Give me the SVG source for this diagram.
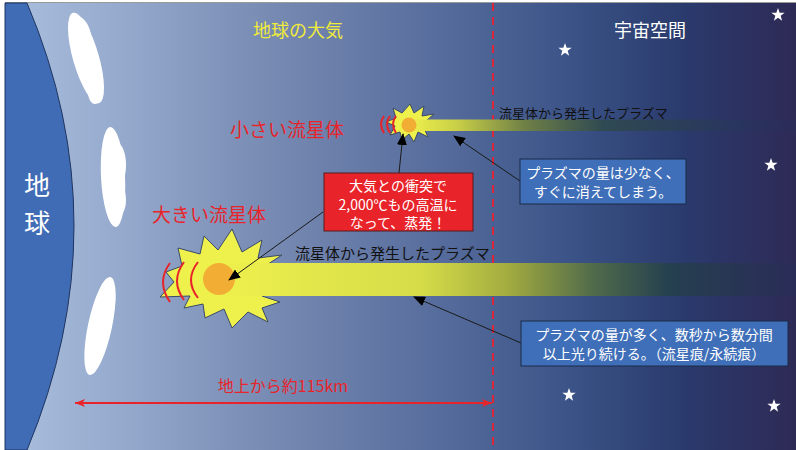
<svg xmlns="http://www.w3.org/2000/svg" width="796" height="450" viewBox="0 0 796 450">
  <defs>
    <linearGradient id="sky" x1="5" y1="0" x2="796" y2="0" gradientUnits="userSpaceOnUse">
      <stop offset="0" stop-color="#abbfde"/>
      <stop offset="0.15" stop-color="#94a9cc"/>
      <stop offset="0.35" stop-color="#7588b1"/>
      <stop offset="0.55" stop-color="#566c9c"/>
      <stop offset="0.62" stop-color="#4a6293"/>
      <stop offset="0.72" stop-color="#3a5286"/>
      <stop offset="0.86" stop-color="#2a3a6c"/>
      <stop offset="1" stop-color="#2e2a56"/>
    </linearGradient>
    <linearGradient id="trailBig" x1="220" y1="0" x2="796" y2="0" gradientUnits="userSpaceOnUse">
      <stop offset="0" stop-color="#eef04c"/>
      <stop offset="0.35" stop-color="#d5dc48"/>
      <stop offset="0.5" stop-color="#a3ac40"/>
      <stop offset="0.65" stop-color="#4f6a4a"/>
      <stop offset="0.78" stop-color="#25404f"/>
      <stop offset="1" stop-color="#2a2c58"/>
    </linearGradient>
    <linearGradient id="trailSmall" x1="410" y1="0" x2="796" y2="0" gradientUnits="userSpaceOnUse">
      <stop offset="0" stop-color="#eef04c"/>
      <stop offset="0.12" stop-color="#c9d046"/>
      <stop offset="0.3" stop-color="#6e7f46"/>
      <stop offset="0.5" stop-color="#2f4a52"/>
      <stop offset="0.85" stop-color="#28355f"/>
      <stop offset="1" stop-color="#2a2c58" stop-opacity="0.6"/>
    </linearGradient>
    <marker id="tip" viewBox="0 0 12 10" refX="11" refY="5" markerWidth="12" markerHeight="10" markerUnits="userSpaceOnUse" orient="auto">
      <path d="M0,0 L12,5 L0,10 Z" fill="#000"/>
    </marker>
    <marker id="redTip" viewBox="0 0 12 10" refX="11" refY="5" markerWidth="12" markerHeight="10" markerUnits="userSpaceOnUse" orient="auto-start-reverse">
      <path d="M1,1 L11,5 L1,9 L3.5,5 Z" fill="#e8242a"/>
    </marker>
    <path id="star" d="M0,-7 L1.65,-2.27 L6.66,-2.16 L2.66,0.87 L4.11,5.66 L0,2.8 L-4.11,5.66 L-2.66,0.87 L-6.66,-2.16 L-1.65,-2.27 Z" fill="#fff"/>
    <style>
      .jp { font-family: "Noto Sans CJK JP", "Noto Sans", sans-serif; }
      .cloud { fill: #fff; }
      .burst { fill: #eef04c; stroke: #3a4a66; stroke-width: 1; stroke-linejoin: miter; }
      .core { fill: #f2ae34; }
      .wave { fill: none; stroke: #e8242a; stroke-width: 2; }
      .callout { stroke: #1a1a1a; stroke-width: 1; fill: none; marker-end: url(#tip); }
      .note { fill: #3f6fb8; stroke: #1c2a48; stroke-width: 1; }
      .noteText { fill: #fff; font-size: 14px; text-anchor: middle; }
      .meteorLabel { fill: #e8242a; font-size: 19px; text-anchor: middle; }
      .plasmaLabel { fill: #111; }
    </style>
  </defs>

  <!-- atmosphere background -->
  <rect x="5" y="3" width="791" height="447" fill="url(#sky)"/>
  <line x1="5" y1="2.5" x2="796" y2="2.5" stroke="#9a9a9a" stroke-width="1"/>

  <!-- earth -->
  <g id="earth">
    <path d="M5,3 L27,3 Q121,225 27,450 L5,450 Z" fill="#3f6cb4" stroke="#1f3560" stroke-width="1"/>
    <text class="jp" x="37" y="195" font-size="26" fill="#fff" text-anchor="middle">地</text>
    <text class="jp" x="37" y="233" font-size="26" fill="#fff" text-anchor="middle">球</text>
  </g>

  <!-- clouds -->
  <g id="clouds" class="cloud">
    <ellipse cx="86" cy="58" rx="13" ry="47" transform="rotate(-16 86 58)"/>
    <ellipse cx="80" cy="32" rx="10" ry="17" transform="rotate(-20 80 32)"/>
    <ellipse cx="92" cy="72" rx="10" ry="20" transform="rotate(-10 92 72)"/>
    <ellipse cx="95" cy="92" rx="7" ry="12"/>
    <ellipse cx="113" cy="177" rx="12" ry="50" transform="rotate(-3 113 177)"/>
    <ellipse cx="117" cy="165" rx="9" ry="22"/>
    <ellipse cx="116" cy="200" rx="10" ry="18"/>
    <ellipse cx="100" cy="326" rx="12" ry="50" transform="rotate(12 100 326)"/>
    <ellipse cx="106" cy="302" rx="9" ry="20" transform="rotate(8 106 302)"/>
    <ellipse cx="95" cy="350" rx="9" ry="20" transform="rotate(12 95 350)"/>
  </g>

  <!-- boundary of the atmosphere -->
  <line id="boundary" x1="493" y1="3" x2="493" y2="450" stroke="#d9263a" stroke-width="2" stroke-dasharray="8,6"/>

  <!-- stars -->
  <g id="stars">
    <use href="#star" x="778" y="15"/>
    <use href="#star" x="565" y="50"/>
    <use href="#star" x="771" y="165"/>
    <use href="#star" x="569" y="395"/>
    <use href="#star" x="774" y="406"/>
  </g>

  <!-- region titles -->
  <text class="jp" x="298" y="37" font-size="18" fill="#f0ec3a" text-anchor="middle">地球の大気</text>
  <text class="jp" x="650" y="37" font-size="18" fill="#fff" text-anchor="middle">宇宙空間</text>

  <!-- small meteoroid -->
  <g id="small-meteoroid">
    <path class="burst" d="M410,104 L414,113 L424,106 L422,116 L434,114 L426,121 L430,126 L424,128 L428,137 L418,132 L414,142 L409,134 L402,140 L400,132 L390,135 L395,126 L386,122 L396,118 L393,108 L402,113 Z"/>
    <rect x="409" y="119.5" width="387" height="11.5" fill="url(#trailSmall)"/>
    <path class="wave" d="M384,116 Q378,124 384,133"/>
    <path class="wave" d="M390,116 Q384,124 390,133"/>
    <path class="wave" d="M396,116 Q390,124 396,133"/>
    <circle class="core" cx="409" cy="125" r="7.5"/>
    <text class="jp meteorLabel" x="287" y="137">小さい流星体</text>
  </g>

  <!-- large meteoroid -->
  <g id="large-meteoroid">
    <path class="burst" d="M232,229 L242,252 L262,240 L258,258 L282,255 L262,268 L262,296 L280,302 L262,308 L268,322 L248,312 L232,328 L224,309 L205,318 L203,304 L184,308 L190,296 L160,297 L174,282 L166,272 L182,266 L178,248 L200,254 L204,236 L218,250 Z"/>
    <rect x="219" y="263" width="577" height="33" fill="url(#trailBig)"/>
    <path class="wave" d="M170,263 Q156,282 170,302"/>
    <path class="wave" d="M184,262 Q170,281 184,300"/>
    <path class="wave" d="M198,262 Q184,280 198,298"/>
    <circle class="core" cx="219" cy="279" r="16"/>
    <text class="jp meteorLabel" x="209" y="222">大きい流星体</text>
  </g>

  <!-- plasma labels -->
  <text class="jp plasmaLabel" x="295" y="259" font-size="15">流星体から発生したプラズマ</text>
  <text class="jp plasmaLabel" x="499" y="118" font-size="13">流星体から発生したプラズマ</text>

  <!-- connectors -->
  <g id="connectors">
    <line class="callout" x1="323" y1="212" x2="229" y2="280"/>
    <line class="callout" x1="399" y1="173" x2="403" y2="134"/>
    <line class="callout" x1="520" y1="181" x2="454" y2="136"/>
    <line class="callout" x1="521" y1="343" x2="414" y2="297"/>
    <line x1="75" y1="403" x2="492" y2="403" stroke="#e8242a" stroke-width="2" marker-start="url(#redTip)" marker-end="url(#redTip)"/>
  </g>

  <!-- evaporation note -->
  <g id="note-evaporation">
    <rect x="324" y="173" width="149" height="58" fill="#e8242a" stroke="#5a1a1a" stroke-width="1"/>
    <text class="jp noteText" x="398" y="191" font-size="13.5">大気との衝突で</text>
    <text class="jp noteText" x="398" y="209.5" font-size="13.5">2,000℃もの高温に</text>
    <text class="jp noteText" x="398" y="228" font-size="13.5">なって、蒸発！</text>
  </g>

  <!-- short-lived plasma note -->
  <g id="note-small">
    <rect x="520" y="159" width="166" height="45" class="note"/>
    <text class="jp noteText" x="603" y="178">プラズマの量は少なく、</text>
    <text class="jp noteText" x="603" y="197">すぐに消えてしまう。</text>
  </g>

  <!-- long-lived plasma note -->
  <g id="note-large">
    <rect x="521" y="321" width="267" height="45" class="note"/>
    <text class="jp noteText" x="654" y="340">プラズマの量が多く、数秒から数分間</text>
    <text class="jp noteText" x="654" y="359">以上光り続ける。（流星痕/永続痕）</text>
  </g>

  <!-- altitude label -->
  <text class="jp" x="283" y="392" font-size="16" fill="#e8242a" text-anchor="middle">地上から約115km</text>
</svg>
